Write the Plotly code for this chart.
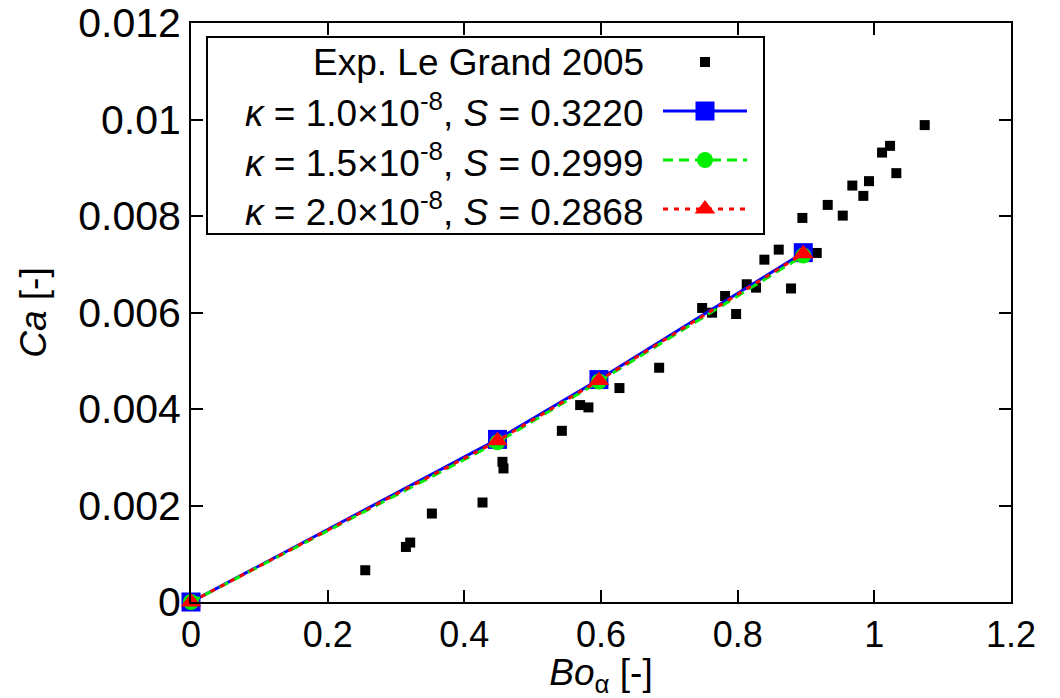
import plotly.graph_objects as go

# ---- data ----
bo_exp = [0.2550, 0.3145, 0.3208, 0.3525, 0.4266, 0.4558, 0.4573, 0.5427, 0.5695, 0.5816,
          0.6270, 0.6851, 0.7480, 0.7626, 0.7816, 0.7977, 0.8133, 0.8269, 0.8781, 0.8391,
          0.8601, 0.8947, 0.9157, 0.9318, 0.9538, 0.9678, 0.9839, 0.9922, 1.0113, 1.0230,
          1.0322, 1.0737]
ca_exp = [0.000658, 0.001141, 0.001232, 0.001834, 0.002062, 0.002905, 0.002768, 0.003548,
          0.004081, 0.004033, 0.004434, 0.004855, 0.006093, 0.005996, 0.006342, 0.005969,
          0.006585, 0.006515, 0.006498, 0.007095, 0.007303, 0.007960, 0.007234, 0.008230,
          0.008008, 0.008631, 0.008417, 0.008722, 0.009315, 0.009454, 0.008888, 0.009884]

bo_sim = [0.0, 0.4485, 0.597, 0.896]
ca_k10 = [0.0, 0.00337, 0.00461, 0.00724]
ca_k15 = [0.0, 0.00331, 0.00457, 0.00718]
ca_k20 = [0.0, 0.00334, 0.00459, 0.00722]

labels = ["Exp. Le Grand 2005",
          "<i>κ</i> = 1.0×10<sup>-8</sup>, <i>S</i> = 0.3220",
          "<i>κ</i> = 1.5×10<sup>-8</sup>, <i>S</i> = 0.2999",
          "<i>κ</i> = 2.0×10<sup>-8</sup>, <i>S</i> = 0.2868"]

x_ticks = [0, 0.2, 0.4, 0.6, 0.8, 1.0, 1.2]
x_tick_text = ["0", "0.2", "0.4", "0.6", "0.8", "1", "1.2"]
y_ticks = [0, 0.002, 0.004, 0.006, 0.008, 0.010, 0.012]
y_tick_text = ["0", "0.002", "0.004", "0.006", "0.008", "0.01", "0.012"]

# ---- layout geometry (page pixels; body margin removed via post_script) ----
W, H = 1060, 698
L, R, T, B = 191, 1011, 23, 602
FONT = "Liberation Sans"


def px_x(p):
    return (p - L) / (R - L)


def px_y(p):
    return (B - p) / (B - T)


styles = [
    dict(color="#0000ff", dash="solid", symbol="square", size=19),
    dict(color="#00ee00", dash="10px,6px", symbol="circle", size=16),
    dict(color="#ff0000", dash="5px,6px", symbol="triangle-up", size=18),
]

fig = go.Figure()
fig.add_trace(go.Scatter(x=bo_exp, y=ca_exp, mode="markers",
                         marker=dict(symbol="square", size=10, color="black", opacity=1),
                         cliponaxis=False, showlegend=False))
for ys, st in zip([ca_k10, ca_k15, ca_k20], styles):
    fig.add_trace(go.Scatter(x=bo_sim, y=ys, mode="lines+markers",
                             line=dict(color=st["color"], width=3, dash=st["dash"]),
                             marker=dict(symbol=st["symbol"], size=st["size"], color=st["color"],
                                         opacity=1, line=dict(width=0)),
                             cliponaxis=False, showlegend=False))

# ---- custom legend (symbols to the right of the text, as in the reference) ----
row_y = [62, 111, 160, 209]
leg_x0, leg_x1 = 663, 747
box_l, box_r, box_t, box_b = 207, 764, 37, 234
fig.add_trace(go.Scatter(x=[0.5], y=[row_y[0]], mode="markers", xaxis="x2", yaxis="y2",
                         marker=dict(symbol="square", size=10, color="black", opacity=1),
                         cliponaxis=False, showlegend=False, hoverinfo="skip"))
for ry, st in zip(row_y[1:], styles):
    fig.add_trace(go.Scatter(x=[0, 1], y=[ry, ry], mode="lines", xaxis="x2", yaxis="y2",
                             line=dict(color=st["color"], width=3, dash=st["dash"]),
                             cliponaxis=False, showlegend=False, hoverinfo="skip"))
    fig.add_trace(go.Scatter(x=[0.5], y=[ry], mode="markers", xaxis="x2", yaxis="y2",
                             marker=dict(symbol=st["symbol"], size=st["size"], color=st["color"],
                                         opacity=1, line=dict(width=0)),
                             cliponaxis=False, showlegend=False, hoverinfo="skip"))

for ry, txt in zip(row_y, labels):
    fig.add_annotation(x=px_x(646), y=px_y(ry), xref="paper", yref="paper",
                       xanchor="right", yanchor="middle", text=txt, showarrow=False,
                       font=dict(family=FONT, size=37, color="black"))

fig.add_shape(type="rect", xref="paper", yref="paper",
              x0=px_x(box_l), x1=px_x(box_r), y0=px_y(box_b), y1=px_y(box_t),
              line=dict(color="black", width=2), fillcolor="rgba(255,255,255,0)",
              layer="above")

axis_common = dict(showgrid=False, zeroline=False, showline=True, linecolor="black",
                   linewidth=2, mirror="allticks", ticks="inside", ticklen=12,
                   tickwidth=2, tickcolor="black", automargin=False,
                   ticklabeloverflow="allow")

fig.update_layout(
    width=W, height=H,
    margin=dict(l=L, r=W - R, t=T, b=H - B, pad=0, autoexpand=False),
    paper_bgcolor="white", plot_bgcolor="white",
    font=dict(family=FONT, color="black"),
    xaxis=dict(range=[0, 1.2], tickvals=x_ticks, ticktext=x_tick_text,
               tickfont=dict(family=FONT, size=36, color="black"),
               title=dict(text="<i>Bo</i><sub>α</sub> [-]", font=dict(family=FONT, size=37),
                          standoff=18),
               **axis_common),
    yaxis=dict(range=[0, 0.012], tickvals=y_ticks, ticktext=y_tick_text,
               tickfont=dict(family=FONT, size=41, color="black"),
               title=dict(text="<i>Ca</i> [-]", font=dict(family=FONT, size=37), standoff=20),
               **axis_common),
    xaxis2=dict(domain=[px_x(leg_x0), px_x(leg_x1)], range=[0, 1], anchor="y2",
                visible=False, fixedrange=True),
    yaxis2=dict(domain=[px_y(box_b), px_y(box_t)], range=[box_b, box_t], anchor="x2",
                visible=False, fixedrange=True),
    showlegend=False,
)

fig.write_html("out.html", config={"displayModeBar": False},
               post_script="document.body.style.margin='0px';"
                           "document.body.style.overflow='hidden';")
